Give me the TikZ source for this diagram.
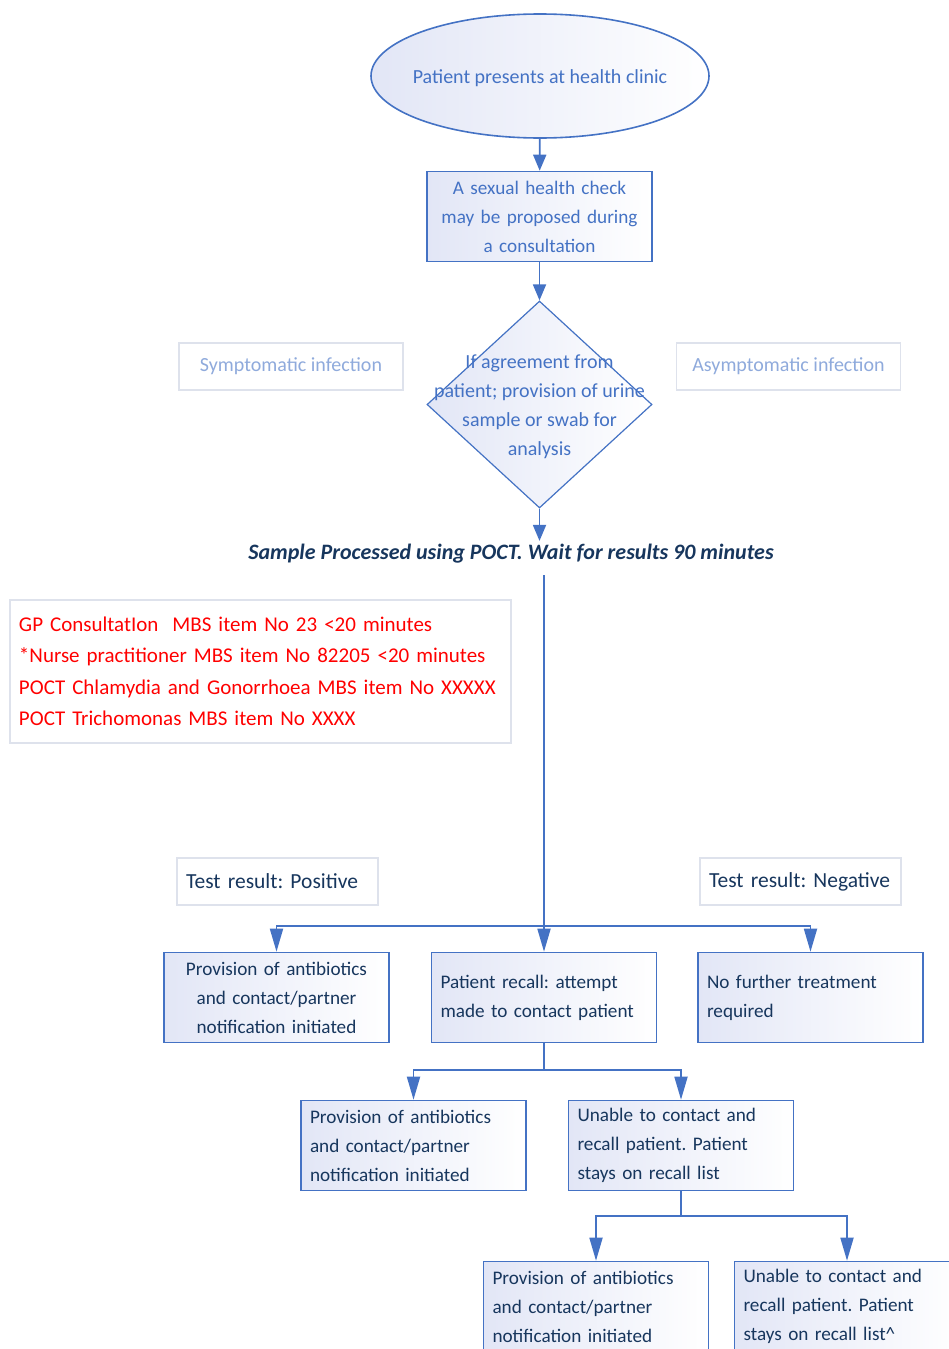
\documentclass[tikz,border=0pt]{standalone}
\usepackage{fontspec}
\setmainfont{Carlito}
\frenchspacing
\usetikzlibrary{arrows.meta, positioning, shapes.geometric}
\definecolor{FlowBlue}{RGB}{68,114,196}
\definecolor{FlowNavy}{RGB}{23,54,93}
\definecolor{FlowPale}{RGB}{143,170,220}
\definecolor{FlowGrey}{RGB}{222,226,236}
\definecolor{FlowFill}{RGB}{226,230,246}
\definecolor{FlowRed}{RGB}{255,0,0}

\begin{document}
\begin{tikzpicture}[x=1pt, y=-1pt,
        every node/.style={font=\fontsize{20}{29}\selectfont},
        shaded/.style={left color=FlowFill, right color=white},
        stepbox/.style={rectangle, draw=FlowBlue, line width=1.6pt, shaded, minimum width=225pt, minimum height=90pt, text width=207pt, inner xsep=9pt, text=FlowNavy, font=\fontsize{19.2}{29}\selectfont},
        labelbox/.style={rectangle, draw=FlowGrey, line width=1.6pt, fill=white, minimum height=47pt, inner xsep=9pt},
        notebox/.style={rectangle, draw=FlowGrey, line width=1.6pt, fill=white, minimum width=501pt, minimum height=143pt, text width=483pt, inner xsep=9pt, align=left, text=FlowRed, font=\fontsize{21}{31.5}\selectfont},
        line/.style={draw=FlowBlue, line width=1.8pt},
        arrow/.style={line, -{Triangle[length=16pt, width=13pt]}},
        forkarrow/.style={line, -{Triangle[length=23pt, width=13pt]}}
    ]
        \useasboundingbox (0,0) rectangle (949,1349);
        \clip (0,0) rectangle (949,1349);

        % Entry and consultation
        \node[ellipse, draw=FlowBlue, line width=1.6pt, shaded, minimum width=338pt, minimum height=124pt] (clinic) at (540,76) {};
        \node[text=FlowBlue] (clinictext) at ([yshift=-2pt]clinic.center) {Patient presents at health clinic};
        \node[stepbox, align=center, text=FlowBlue] (check) at (539.5,216.5) {A sexual health check\\may be proposed during\\a consultation};

        % Agreement decision
        \node[diamond, draw=FlowBlue, line width=1.2pt, shaded, minimum width=225pt, minimum height=207pt, inner sep=0pt] (agree) at (539.5,404.5) {};
        \node[align=center, text=FlowBlue] (agreetext) at ([yshift=-2pt]agree.center) {If agreement from\\patient; provision of urine\\sample or swab for\\analysis};
        \node[labelbox, minimum width=224pt, text=FlowPale] (sympt) at (291,366.5) {Symptomatic infection};
        \node[labelbox, minimum width=224pt, text=FlowPale] (asympt) at (788.5,366.5) {Asymptomatic infection};

        % Processing and billing
        \node[font=\fontsize{22}{26}\selectfont\bfseries\itshape, text=FlowNavy] (sample) at (511,554) {Sample Processed using POCT. Wait for results 90 minutes};
        \node[notebox] (billing) at (260.5,671.5) {GP ConsultatIon\ \ MBS item No 23 <20 minutes\\{*}Nurse practitioner MBS item No 82205 <20 minutes\\POCT Chlamydia and Gonorrhoea MBS item No XXXXX\\POCT Trichomonas MBS item No XXXX};

        % Results
        \node[labelbox, minimum width=201pt, text width=183pt, align=left, text=FlowNavy, font=\fontsize{21.5}{29}\selectfont] (posres) at (277.5,881.5) {Test result: Positive};
        \node[labelbox, minimum width=201pt, text width=183pt, align=left, text=FlowNavy, font=\fontsize{21.5}{29}\selectfont] (negres) at (800.5,881.5) {Test result: Negative};

        \node[stepbox, align=center] (pos1) at (276.5,997.5) {Provision of antibiotics\\and contact/partner\\notification initiated};
        \node[stepbox, align=left] (recall) at (544,997.5) {Patient recall: attempt\\made to contact patient};
        \node[stepbox, align=left] (neg1) at (810.5,997.5) {No further treatment\\required};

        % Recall outcomes
        \node[stepbox, align=left] (pos2) at (413.5,1145.5) {Provision of antibiotics\\and contact/partner\\notification initiated};
        \node[stepbox, align=left] (unable2) at (681,1145.5) {Unable to contact and\\recall patient. Patient\\stays on recall list};
        \node[stepbox, align=left] (pos3) at (596,1306.5) {Provision of antibiotics\\and contact/partner\\notification initiated};
        \node[stepbox, align=left] (unable3) at (847,1306.5) {Unable to contact and\\recall patient. Patient\\stays on recall list\^{}};

        % Connectors
        \coordinate (wait) at (recall.north |- 0,575);
        \coordinate (fork1) at (recall.north |- 0,926);
        \coordinate (fork2) at (recall.south |- 0,1070);
        \coordinate (fork3) at (unable2.south |- 0,1216);

        \draw[arrow] (clinic) -- (check);
        \draw[arrow] (check) -- (agree);
        \draw[arrow] (agree.south) -- (agree.south |- sample.north);
        \draw[line] (wait) -- (fork1);
        \draw[forkarrow] (fork1) -| (pos1);
        \draw[forkarrow] (fork1) -- (recall);
        \draw[forkarrow] (fork1) -| (neg1);
        \draw[line] (recall) -- (fork2);
        \draw[forkarrow] (fork2) -| (pos2);
        \draw[forkarrow] (fork2) -| (unable2);
        \draw[line] (unable2) -- (fork3);
        \draw[forkarrow] (fork3) -| (pos3);
        \draw[forkarrow] (fork3) -| (unable3);
    \end{tikzpicture}
\end{document}
